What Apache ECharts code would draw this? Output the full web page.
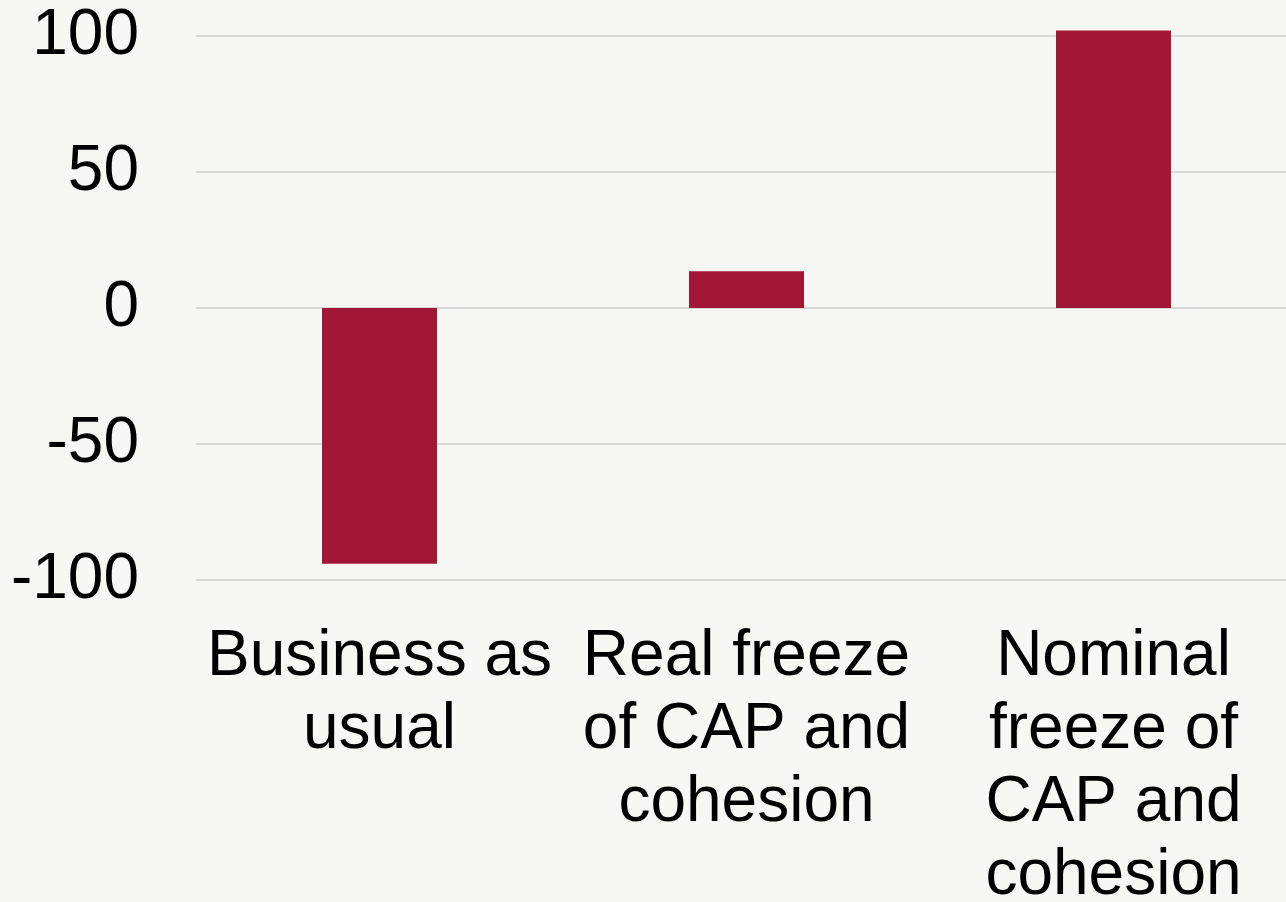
<!DOCTYPE html>
<html>
<head>
<meta charset="utf-8">
<script src="https://cdn.jsdelivr.net/npm/echarts@6/dist/echarts.min.js"></script>
<style>
html,body{margin:0;padding:0;background:#f7f7f3;overflow:hidden;}
#chart{width:1286px;height:902px;}
</style>
</head>
<body>
<div id="chart"></div>
<script>
const categories = ["Business as\nusual", "Real freeze\nof CAP and\ncohesion", "Nominal\nfreeze of\nCAP and\ncohesion"];
const values = [-94, 13.5, 102];
const yTicks = { min: -100, max: 100, interval: 50 };

const chart = echarts.init(document.getElementById('chart'), null, { renderer: 'canvas', width: 1286, height: 902 });
chart.setOption({
  backgroundColor: '#f7f7f3',
  animation: false,
  grid: { left: 196, right: -11, top: 36, bottom: 322, containLabel: false, outerBoundsMode: 'none' },
  xAxis: {
    type: 'category',
    data: categories,
    position: 'bottom',
    axisLine: { show: false, onZero: false },
    axisTick: { show: false },
    splitLine: { show: false },
    axisLabel: {
      interval: 0,
      margin: 41,
      color: '#000',
      fontFamily: '"Liberation Sans", Arial, sans-serif',
      fontSize: 64,
      lineHeight: 73,
      align: 'center'
    }
  },
  yAxis: {
    type: 'value',
    min: yTicks.min,
    max: yTicks.max,
    interval: yTicks.interval,
    axisLine: { show: false },
    axisTick: { show: false },
    splitLine: { show: true, lineStyle: { color: '#d9d9d9', width: 2 } },
    axisLabel: {
      margin: 57,
      color: '#000',
      fontFamily: '"Liberation Sans", Arial, sans-serif',
      fontSize: 64
    }
  },
  series: [{
    type: 'bar',
    data: values,
    barWidth: 115,
    clip: false,
    itemStyle: { color: '#a21636' }
  }]
});
</script>
</body>
</html>
